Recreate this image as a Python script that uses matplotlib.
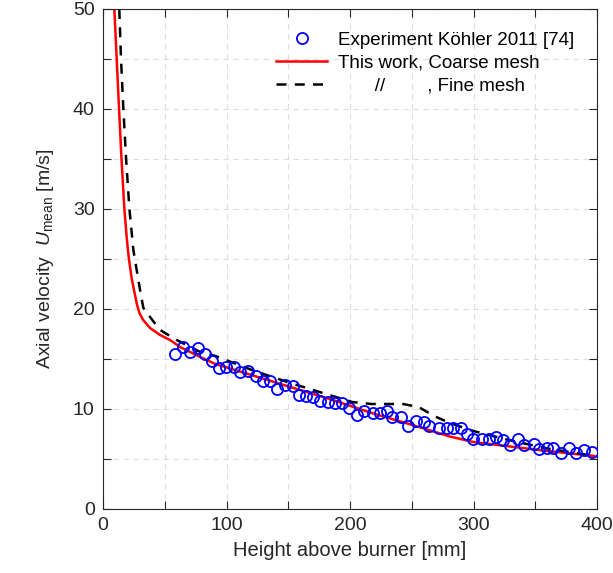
import matplotlib.pyplot as plt
from matplotlib.ticker import MultipleLocator, FuncFormatter

plt.rcParams['font.family'] = ['Liberation Sans', 'DejaVu Sans']
plt.rcParams['mathtext.fontset'] = 'custom'
plt.rcParams['mathtext.rm'] = 'Liberation Sans'
plt.rcParams['mathtext.it'] = 'Liberation Sans:italic'

# Experiment (Koehler 2011)
exp_x = [58.5, 64.8, 70.5, 76.8, 82.2, 88.5, 94.2, 99.6, 106.2, 111.3, 117.3,
         123.6, 129.3, 135.3, 140.7, 147.4, 153.7, 158.4, 164.4, 170.1, 175.8,
         182.1, 188.1, 193.5, 199.5, 205.5, 211.5, 218.5, 223.9, 230.2, 234.3,
         241.3, 247.0, 253.3, 259.6, 264.0, 272.3, 278.3, 283.3, 289.6, 295.0,
         299.8, 306.7, 312.4, 318.1, 324.1, 329.8, 336.1, 340.9, 348.8, 352.9,
         359.2, 364.6, 370.9, 377.2, 382.9, 389.2, 396.2]
exp_u = [15.5, 16.2, 15.7, 16.1, 15.5, 14.8, 14.1, 14.2, 14.2, 13.7, 13.8,
         13.3, 12.8, 12.8, 12.0, 12.35, 12.3, 11.4, 11.3, 11.2, 10.8,
         10.7, 10.6, 10.6, 10.1, 9.4, 9.8, 9.55, 9.55, 9.8, 9.15,
         9.2, 8.3, 8.8, 8.7, 8.3, 8.05, 8.05, 8.05, 8.05, 7.5,
         6.95, 7.0, 7.0, 7.2, 6.85, 6.35, 6.95, 6.4, 6.5, 6.0,
         6.05, 6.05, 5.6, 6.05, 5.6, 5.9, 5.7]

# This work, coarse mesh
coarse_x = [9.2, 11.1, 13.0, 15.0, 17.3, 19.3, 21.0, 23.3, 25.6, 27.4, 29.5,
            32.5, 38.1, 46.2, 54.3, 62.4, 78.7, 91.0, 122.7, 154.3, 185.9,
            217.5, 249.2, 280.8, 299.8, 328.2, 359.8, 397.8]
coarse_u = [50.0, 45.0, 40.0, 35.0, 30.0, 27.0, 25.0, 23.0, 21.6, 20.5, 19.6,
            18.9, 18.1, 17.4, 16.9, 16.2, 15.2, 14.5, 13.3, 12.1, 10.9,
            9.6, 8.45, 7.25, 6.7, 6.27, 5.8, 5.3]

# Fine mesh
fine_x = [13.2, 14.6, 16.5, 18.7, 21.4, 24.6, 27.3, 30.0, 32.7, 38.1, 46.2,
          59.7, 78.7, 91.0, 122.7, 154.3, 185.9, 201.7, 217.5, 242.8, 255.5,
          268.0, 280.8, 299.8, 328.2, 359.8, 397.8]
fine_u = [50.0, 45.0, 40.0, 35.0, 30.0, 25.9, 23.9, 21.9, 20.1, 19.2, 17.9,
          16.9, 15.7, 15.3, 13.8, 12.5, 11.3, 10.7, 10.5, 10.5, 10.2,
          9.3, 8.6, 7.8, 6.9, 6.05, 5.3]

fig = plt.figure(figsize=(6.13, 5.73), dpi=100)
ax = fig.add_axes([0.168, 0.1117, 0.806, 0.8726])

ax.plot(exp_x, exp_u, 'o', mfc='none', mec='blue', ms=8, mew=1.3,
        label='Experiment Köhler 2011 [74]', zorder=3)
ax.plot(coarse_x, coarse_u, '-', color='red', lw=1.8,
        label='This work, Coarse mesh', zorder=2)
ax.plot(fine_x, fine_u, '--', color='black', lw=1.8, dashes=(4, 3.3),
        label='       //        , Fine mesh', zorder=2)

ax.set_xlim(0, 400)
ax.set_ylim(0, 50)
ax.xaxis.set_major_locator(MultipleLocator(50))
ax.yaxis.set_major_locator(MultipleLocator(5))
ax.xaxis.set_major_formatter(FuncFormatter(lambda v, p: '%d' % v if v % 100 == 0 else ''))
ax.yaxis.set_major_formatter(FuncFormatter(lambda v, p: '%d' % v if v % 10 == 0 else ''))
ax.tick_params(direction='in', top=True, right=True, length=6, width=0.8,
               labelsize=14, colors='#262626', pad=6)
ax.grid(True, ls=(0, (5, 4)), color='#dedede', lw=0.8)
for s in ax.spines.values():
    s.set_color('#262626')
    s.set_linewidth(0.8)

ax.set_xlabel('Height above burner [mm]', fontsize=14.5, color='#262626', labelpad=5)
ax.set_ylabel(r'Axial velocity  $U_{\mathrm{mean}}$ [m/s]', fontsize=14,
              color='#262626', labelpad=12)

ax.legend(loc='upper right', frameon=False, fontsize=13.5, handlelength=2.7,
          handletextpad=0.6, labelspacing=0.3, borderaxespad=0.8)

fig.savefig('out.png', dpi=100)
